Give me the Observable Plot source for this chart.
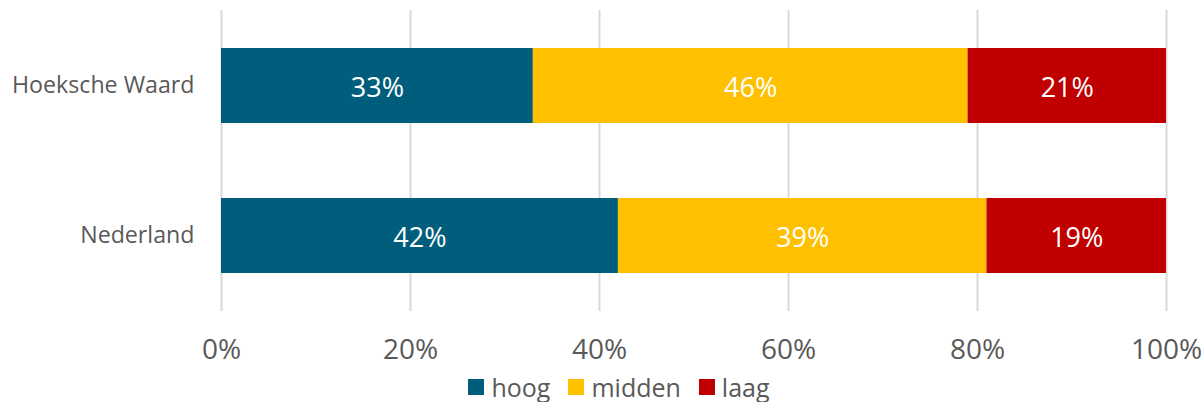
<!DOCTYPE html>
<html>
<head>
<meta charset="utf-8">
<script src="https://cdn.jsdelivr.net/npm/d3@7"></script>
<script src="https://cdn.jsdelivr.net/npm/@observablehq/plot@0.6"></script>
<style>
  body { margin: 0; background: #fff; font-family: "Open Sans", sans-serif; }
  #legend { display: flex; justify-content: center; align-items: center; height: 30px; gap: 18px; padding-left: 34px; color: #595959; font-size: 25px; }
  #legend .item { display: flex; align-items: center; gap: 7px; }
  #legend .sw { width: 16px; height: 16px; display: inline-block; }
</style>
</head>
<body>
<div id="chart"></div>
<div id="legend"></div>
<script>
const categories = ["Hoeksche Waard", "Nederland"];
const levels = ["hoog", "midden", "laag"];
const hoog = [33, 42];
const midden = [46, 39];
const laag = [21, 19];
const xTicks = [0, 20, 40, 60, 80, 100];
const colors = ["#005E7C", "#FFC000", "#C00000"];

const series = [hoog, midden, laag];
const data = [];
categories.forEach((c, i) => levels.forEach((l, j) => data.push({cat: c, level: l, value: series[j][i]})));

const chart = Plot.plot({
  width: 1204,
  height: 372,
  marginLeft: 221,
  marginRight: 38,
  marginTop: 10,
  marginBottom: 61,
  style: {fontFamily: "Open Sans, sans-serif", background: "#fff"},
  x: {domain: [0, 100], ticks: xTicks, tickFormat: d => d + "%"},
  y: {domain: categories, paddingInner: 0.5, paddingOuter: 0.25},
  color: {domain: levels, range: colors},
  marks: [
    Plot.gridX(xTicks, {stroke: "#d9d9d9", strokeOpacity: 1, strokeWidth: 2}),
    Plot.barX(data, Plot.stackX({x: "value", y: "cat", fill: "level", order: levels})),
    Plot.text(data, Plot.stackX({x: "value", y: "cat", z: "level", order: levels, text: d => d.value + "%", fill: "white", fontSize: 27, dy: 2})),
    Plot.axisX(xTicks, {tickSize: 0, tickPadding: 28, fontSize: 28, fill: "#595959", label: null, tickFormat: d => d + "%"}),
    Plot.axisY({tickSize: 0, tickPadding: 27, fontSize: 23.2, fill: "#595959", label: null})
  ]
});
document.getElementById("chart").appendChild(chart);

const lg = document.getElementById("legend");
levels.forEach((l, j) => {
  const it = document.createElement("span");
  it.className = "item";
  const sw = document.createElement("span");
  sw.className = "sw";
  sw.style.background = colors[j];
  const t = document.createElement("span");
  t.textContent = l;
  it.appendChild(sw); it.appendChild(t);
  lg.appendChild(it);
});
</script>
</body>
</html>
